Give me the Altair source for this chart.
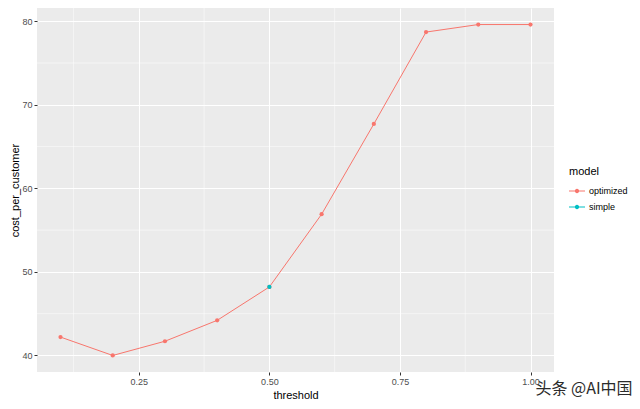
import altair as alt
import pandas as pd

# Data
threshold = [0.1, 0.2, 0.3, 0.4, 0.5, 0.6, 0.7, 0.8, 0.9, 1.0]
cost_optimized = [42.2, 40.0, 41.7, 44.2, 48.2, 56.9, 67.7, 78.7, 79.6, 79.6]
simple_threshold = [0.5]
simple_cost = [48.2]

x_major = [0.25, 0.50, 0.75, 1.00]
x_minor = [0.125, 0.375, 0.625, 0.875]
y_major = [40, 50, 60, 70, 80]
y_minor = [45, 55, 65, 75]

models = ["optimized", "simple"]
colors = ["#F8766D", "#00BFC4"]

df = pd.DataFrame(
    {
        "threshold": threshold + simple_threshold,
        "cost_per_customer": cost_optimized + simple_cost,
        "model": ["optimized"] * len(threshold) + ["simple"] * len(simple_threshold),
    }
)
df_opt = df[df["model"] == "optimized"]

x_scale = alt.Scale(domain=[0.055, 1.045], nice=False, zero=False)
y_scale = alt.Scale(domain=[38.02, 81.58], nice=False, zero=False)
color_scale = alt.Scale(domain=models, range=colors)

x_axis = alt.Axis(values=x_major, format=".2f", title="threshold")
y_axis = alt.Axis(values=y_major, format="d", title="cost_per_customer")

key_path = (
    "M-1,-0.06L1,-0.06L1,0.06L-1,0.06Z"
    "M-0.27,0A0.27,0.27,0,1,1,0.27,0A0.27,0.27,0,1,1,-0.27,0Z"
)

legend = alt.Legend(
    title="model",
    orient="none",
    legendX=532,
    legendY=158,
    symbolType=key_path,
    symbolSize=256,
    symbolStrokeWidth=0,
    symbolOpacity=1,
    titleFontSize=11,
    titleFontWeight="normal",
    titleColor="#000000",
    labelFontSize=9,
    labelColor="#000000",
    rowPadding=3,
    labelOffset=4,
    titlePadding=6,
)

minor_x = (
    alt.Chart(pd.DataFrame({"v": x_minor}))
    .mark_rule(color="white", strokeWidth=0.5)
    .encode(x=alt.X("v:Q", scale=x_scale, axis=x_axis))
)
minor_y = (
    alt.Chart(pd.DataFrame({"v": y_minor}))
    .mark_rule(color="white", strokeWidth=0.5)
    .encode(y=alt.Y("v:Q", scale=y_scale, axis=y_axis))
)

line = (
    alt.Chart(df_opt)
    .mark_line(strokeWidth=1)
    .encode(
        x=alt.X("threshold:Q", scale=x_scale, axis=x_axis),
        y=alt.Y("cost_per_customer:Q", scale=y_scale, axis=y_axis),
        color=alt.Color("model:N", scale=color_scale, legend=legend),
    )
)

points = (
    alt.Chart(df)
    .mark_point(filled=True, size=18, opacity=1)
    .encode(
        x=alt.X("threshold:Q", scale=x_scale, axis=x_axis),
        y=alt.Y("cost_per_customer:Q", scale=y_scale, axis=y_axis),
        color=alt.Color("model:N", scale=color_scale, legend=legend),
        order=alt.Order("model:N"),
    )
)

watermark = (
    alt.Chart(pd.DataFrame({"t": ["头条 @AI中国"]}))
    .mark_text(
        font="Noto Sans CJK SC",
        fontSize=16,
        color="#2b2b2b",
        align="center",
        baseline="middle",
    )
    .encode(text="t:N", x=alt.value(547), y=alt.value(381))
)

chart = (
    alt.layer(minor_x, minor_y, line, points, watermark)
    .resolve_legend(color="shared")
    .properties(
        width=517,
        height=364,
        autosize=alt.AutoSizeParams(type="none"),
        padding={"left": 29, "top": 0, "right": 78, "bottom": 28},
    )
    .configure_view(fill="#EBEBEB", stroke=None)
    .configure_axis(
        grid=True,
        gridColor="white",
        gridWidth=1,
        domain=False,
        tickColor="#333333",
        tickSize=3,
        labelColor="#4D4D4D",
        labelFontSize=9,
        labelFont="Liberation Sans",
        titleFont="Liberation Sans",
        titleFontSize=11,
        titleFontWeight="normal",
        titleColor="#000000",
        labelPadding=2,
    )
    .configure_axisX(titlePadding=3)
    .configure_axisY(titlePadding=1)
    .configure_legend(labelFont="Liberation Sans", titleFont="Liberation Sans")
)

chart.save("out.html", embed_options={"renderer": "svg", "actions": False})
